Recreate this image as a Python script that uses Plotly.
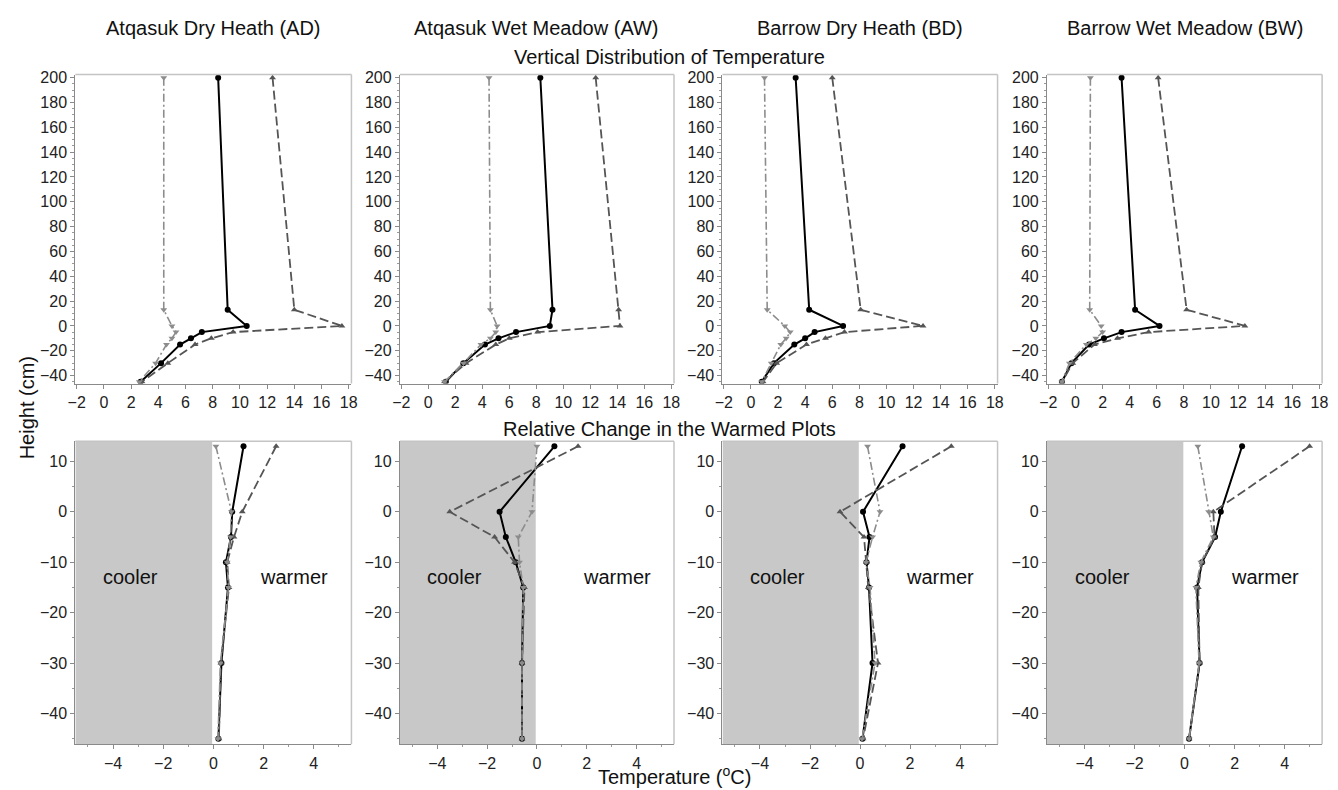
import plotly.graph_objects as go

# ---------------- data ----------------
sites = ["Atqasuk Dry Heath (AD)", "Atqasuk Wet Meadow (AW)",
         "Barrow Dry Heath (BD)", "Barrow Wet Meadow (BW)"]

heights_top = [200, 13, 0, -5, -10, -15, -30, -45]
heights_bot = [13, 0, -5, -10, -15, -30, -45]

# Vertical distribution of temperature (top row)
AD_mean = [8.4, 9.1, 10.5, 7.2, 6.4, 5.6, 4.2, 2.7]
AD_max = [12.4, 14.0, 17.5, 9.5, 7.9, 6.7, 4.7, 2.8]
AD_min = [4.4, 4.4, 5.0, 5.3, 5.0, 4.6, 3.8, 2.6]

AW_mean = [8.3, 9.2, 9.0, 6.5, 5.2, 4.2, 2.6, 1.3]
AW_max = [12.4, 14.1, 14.2, 8.1, 6.0, 5.0, 2.8, 1.2]
AW_min = [4.5, 4.6, 5.1, 5.0, 4.6, 3.9, 2.6, 1.2]

BD_mean = [3.3, 4.3, 6.8, 4.7, 4.0, 3.2, 1.7, 0.8]
BD_max = [6.0, 8.1, 12.7, 6.9, 5.5, 4.1, 1.9, 0.9]
BD_min = [1.0, 1.2, 2.5, 2.9, 2.6, 2.2, 1.5, 0.8]

BW_mean = [3.4, 4.4, 6.2, 3.4, 2.1, 1.0, -0.3, -1.0]
BW_max = [6.1, 8.2, 12.5, 5.4, 3.1, 1.4, -0.2, -1.0]
BW_min = [1.1, 1.05, 1.9, 2.0, 1.5, 0.8, -0.45, -1.0]

# Relative change in the warmed plots (bottom row)
AD_dmean = [1.2, 0.75, 0.7, 0.5, 0.58, 0.32, 0.2]
AD_dmax = [2.5, 1.15, 0.82, 0.55, 0.62, 0.3, 0.22]
AD_dmin = [0.1, 0.72, 0.68, 0.55, 0.6, 0.28, 0.18]

AW_dmean = [0.7, -1.5, -1.25, -0.85, -0.55, -0.6, -0.6]
AW_dmax = [1.65, -3.5, -1.7, -0.9, -0.5, -0.6, -0.6]
AW_dmin = [0.0, -0.2, -0.75, -0.7, -0.55, -0.6, -0.6]

BD_dmean = [1.7, 0.12, 0.38, 0.26, 0.36, 0.5, 0.1]
BD_dmax = [3.65, -0.8, 0.16, 0.25, 0.33, 0.72, 0.12]
BD_dmin = [0.3, 0.8, 0.5, 0.24, 0.4, 0.6, 0.08]

BW_dmean = [2.3, 1.45, 1.22, 0.7, 0.5, 0.6, 0.18]
BW_dmax = [5.0, 1.15, 1.2, 0.7, 0.55, 0.6, 0.18]
BW_dmin = [0.53, 0.96, 1.15, 0.65, 0.45, 0.58, 0.18]

top_sets = [(AD_mean, AD_max, AD_min), (AW_mean, AW_max, AW_min),
            (BD_mean, BD_max, BD_min), (BW_mean, BW_max, BW_min)]
bot_sets = [(AD_dmean, AD_dmax, AD_dmin), (AW_dmean, AW_dmax, AW_dmin),
            (BD_dmean, BD_dmax, BD_dmin), (BW_dmean, BW_dmax, BW_dmin)]

top_xticks = [-2, 0, 2, 4, 6, 8, 10, 12, 14, 16, 18]
top_yticks = [-40, -20, 0, 20, 40, 60, 80, 100, 120, 140, 160, 180, 200]
bot_xticks = [-4, -2, 0, 2, 4]
bot_yticks = [-40, -30, -20, -10, 0, 10]

# ---------------- layout geometry ----------------
# the page has an 8px body margin, so the figure is shifted by OFF pixels
OFF = 8
W, H = 1338 - OFF, 790 - OFF
FONT = "Liberation Sans, Arial, sans-serif"
col_px = [(68, 347), (396, 673), (722, 1000), (1050, 1328)]   # page pixels
top_py = (70, 381)
bot_py = (439, 744)


def px(p):
    return (p - OFF) / W


def py(p):
    return 1 - (p - OFF) / H


def xd(a, b):
    return [px(a), px(b)]


def yd(a, b):
    return [py(b), py(a)]


def sfx(n):
    return "" if n == 1 else str(n)


styles = [
    dict(line=dict(color="black", width=2), marker=dict(symbol="circle", size=6, color="black")),
    dict(line=dict(color="#555555", width=1.8, dash="9px,4px"),
         marker=dict(symbol="triangle-up", size=6, color="#555555")),
    dict(line=dict(color="#8c8c8c", width=1.6, dash="8px,3px,2px,3px"),
         marker=dict(symbol="triangle-down", size=6, color="#8c8c8c")),
]

fig = go.Figure()
layout = dict(width=W, height=H, margin=dict(l=0, r=0, t=0, b=0),
              paper_bgcolor="white", plot_bgcolor="white", showlegend=False,
              font=dict(family=FONT, size=16, color="#222"))
shapes = []
annotations = []

axis_common = dict(showgrid=False, zeroline=False, showline=True, linecolor="#8a8a8a",
                   linewidth=1.2, ticks="outside", ticklen=4, tickcolor="#8a8a8a",
                   tickfont=dict(family=FONT, size=16, color="#222"))

TXT = dict(showarrow=False, xanchor="center", yanchor="middle")

for i in range(4):
    nt = sfx(i + 1)
    nb = sfx(i + 5)
    for s, vals in zip(styles, top_sets[i]):
        fig.add_trace(go.Scatter(x=vals, y=heights_top, mode="lines+markers",
                                 xaxis=f"x{nt}", yaxis=f"y{nt}", **s))
    for s, vals in zip(styles, bot_sets[i]):
        fig.add_trace(go.Scatter(x=vals, y=heights_bot, mode="lines+markers",
                                 xaxis=f"x{nb}", yaxis=f"y{nb}", **s))
    a, b = col_px[i]
    layout[f"xaxis{nt}"] = dict(axis_common, domain=xd(a, b), range=[-2.1, 18.2],
                                tickvals=top_xticks, anchor=f"y{nt}")
    layout[f"yaxis{nt}"] = dict(axis_common, domain=yd(*top_py), range=[-46.5, 202.5],
                                tickvals=top_yticks, anchor=f"x{nt}",
                                minor=dict(dtick=5, tick0=0, ticks="outside", ticklen=2,
                                           tickcolor="#9a9a9a"))
    layout[f"xaxis{nb}"] = dict(axis_common, domain=xd(a, b), range=[-5.5, 5.5],
                                tickvals=bot_xticks, anchor=f"y{nb}",
                                minor=dict(dtick=1, ticks="outside", ticklen=2,
                                           tickcolor="#9a9a9a"))
    layout[f"yaxis{nb}"] = dict(axis_common, domain=yd(*bot_py), range=[-46.1, 14.0],
                                tickvals=bot_yticks, anchor=f"x{nb}",
                                minor=dict(dtick=5, tick0=0, ticks="outside", ticklen=2,
                                           tickcolor="#9a9a9a"))
    shapes.append(dict(type="rect", xref=f"x{nb}", yref=f"y{nb} domain",
                       x0=-5.5, x1=-0.05, y0=0, y1=1, fillcolor="#c8c8c8",
                       line=dict(width=0), layer="below"))
    for n in (nt, nb):
        shapes.append(dict(type="line", xref=f"x{n} domain", yref=f"y{n} domain",
                           x0=0, x1=1, y0=1, y1=1, line=dict(color="#c4c4c4", width=1.5)))
        shapes.append(dict(type="line", xref=f"x{n} domain", yref=f"y{n} domain",
                           x0=1, x1=1, y0=0, y1=1, line=dict(color="#c4c4c4", width=1.5)))
    annotations.append(dict(TXT, text=sites[i], xref="paper", yref="paper",
                            x=px((a + b) / 2), y=py(23), font=dict(size=20, color="#111")))
    annotations.append(dict(TXT, text="cooler", xref=f"x{nb}", yref=f"y{nb}",
                            x=-3.3, y=-13, font=dict(size=20, color="#111")))
    annotations.append(dict(TXT, text="warmer", xref=f"x{nb}", yref=f"y{nb}",
                            x=3.2, y=-13, font=dict(size=20, color="#111")))

annotations += [
    dict(TXT, text="Vertical Distribution of Temperature", xref="paper", yref="paper",
         x=px(668), y=py(52), font=dict(size=20, color="#111")),
    dict(TXT, text="Relative Change in the Warmed Plots", xref="paper", yref="paper",
         x=px(668), y=py(427), font=dict(size=20, color="#111")),
    dict(TXT, text="Height (cm)", xref="paper", yref="paper", x=px(20), y=py(405),
         textangle=-90, font=dict(size=20, color="#111")),
    dict(TXT, text="Temperature (<sup>o</sup>C)", xref="paper", yref="paper",
         x=px(673), y=py(775), font=dict(size=20, color="#111")),
]

layout["shapes"] = shapes
layout["annotations"] = annotations
fig.update_layout(**layout)
fig.write_html("out.html")
